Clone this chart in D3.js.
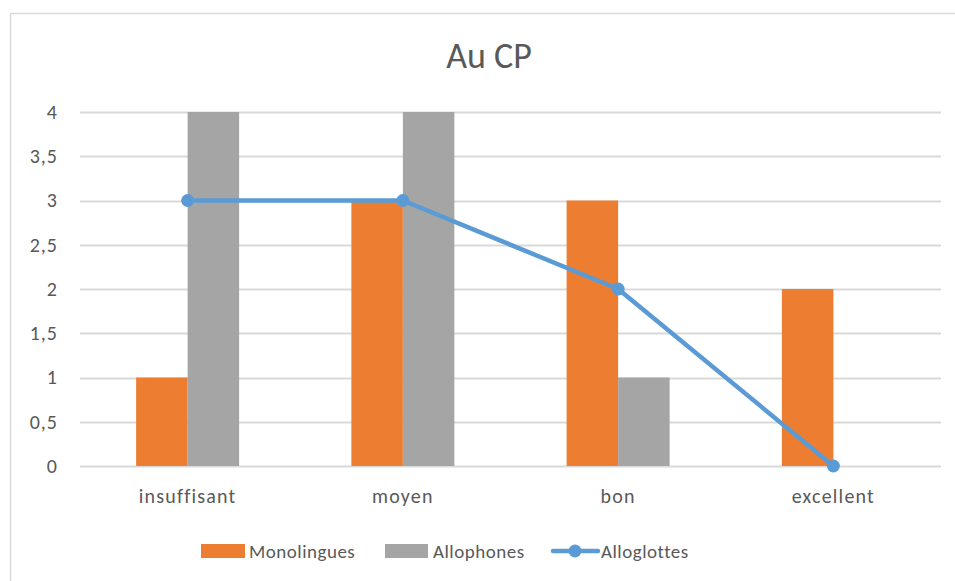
<!DOCTYPE html>
<html>
<head>
<meta charset="utf-8">
<script src="https://cdn.jsdelivr.net/npm/d3@7"></script>
<style>
  body { margin: 0; background: #fff; }
  svg text { font-family: Calibri, Carlito, "Open Sans", sans-serif; fill: #595959; }
</style>
</head>
<body>
<svg id="chart" width="955" height="581"></svg>
<script>
const categories = ["insuffisant", "moyen", "bon", "excellent"];
const monolingues = [1, 3, 3, 2];
const allophones = [4, 4, 1, 0];
const alloglottes = [3, 3, 2, 0];
const yTicks = [0, 0.5, 1, 1.5, 2, 2.5, 3, 3.5, 4];

const colors = { mono: "#ED7D31", allo: "#A5A5A5", line: "#5B9BD5" };

const svg = d3.select("#chart");
const W = 955, H = 581;
const plot = { left: 80, right: 941, top: 112, bottom: 466 };

// chart frame (open on the right and bottom edges)
svg.append("path")
  .attr("d", `M10.5,${H} V13.5 H${W}`)
  .attr("fill", "none").attr("stroke", "#D9D9D9").attr("stroke-width", 1.5);

svg.append("text")
  .attr("x", 489).attr("y", 68)
  .attr("text-anchor", "middle")
  .attr("font-size", 36)
  .text("Au CP");

const x = d3.scaleBand().domain(categories).range([plot.left, plot.right]).paddingInner(0).paddingOuter(0);
const y = d3.scaleLinear().domain([0, 4]).range([plot.bottom, plot.top]);
const barW = 51.5;

// horizontal gridlines
svg.append("g").selectAll("line").data(yTicks).join("line")
  .attr("x1", plot.left).attr("x2", plot.right)
  .attr("y1", d => Math.round(y(d)) + 0.5).attr("y2", d => Math.round(y(d)) + 0.5)
  .attr("stroke", "#D9D9D9").attr("stroke-width", 2);

const labelFont = 'Calibri, Carlito, "Open Sans", sans-serif';

// y axis labels
const yAxis = d3.axisLeft(y).tickValues(yTicks).tickSize(0).tickPadding(0)
  .tickFormat(d => String(d).replace(".", ","));
const gy = svg.append("g").attr("transform", `translate(${plot.left - 22},0)`).call(yAxis);
gy.select(".domain").remove();
gy.selectAll("text").attr("font-size", 20).attr("letter-spacing", 1).attr("fill", "#595959")
  .attr("font-family", labelFont);

// x axis labels
const xAxis = d3.axisBottom(x).tickSize(0).tickPadding(0);
const gx = svg.append("g").attr("transform", `translate(0,${plot.bottom + 23})`).call(xAxis);
gx.select(".domain").remove();
gx.selectAll("text").attr("font-size", 20).attr("letter-spacing", 1.2).attr("fill", "#595959")
  .attr("font-family", labelFont);

const cx = c => x(c) + x.bandwidth() / 2;

// bars
svg.append("g").selectAll("rect").data(categories).join("rect")
  .attr("x", c => cx(c) - barW)
  .attr("width", barW)
  .attr("y", (c, i) => y(monolingues[i]))
  .attr("height", (c, i) => y(0) - y(monolingues[i]))
  .attr("fill", colors.mono);

svg.append("g").selectAll("rect").data(categories).join("rect")
  .attr("x", c => cx(c))
  .attr("width", barW)
  .attr("y", (c, i) => y(allophones[i]))
  .attr("height", (c, i) => y(0) - y(allophones[i]))
  .attr("fill", colors.allo);

// line series
const line = d3.line().x(d => cx(d.c)).y(d => y(d.v));
const pts = categories.map((c, i) => ({ c, v: alloglottes[i] }));
svg.append("path").datum(pts)
  .attr("d", line)
  .attr("fill", "none").attr("stroke", colors.line)
  .attr("stroke-width", 4.5).attr("stroke-linejoin", "round").attr("stroke-linecap", "round");
svg.append("g").selectAll("circle").data(pts).join("circle")
  .attr("cx", d => cx(d.c)).attr("cy", d => y(d.v)).attr("r", 6.5)
  .attr("fill", colors.line);

// legend
const lg = svg.append("g").attr("font-size", 19).attr("letter-spacing", 0.5);
const ly = 551;
lg.append("rect").attr("x", 201).attr("y", ly - 7).attr("width", 44).attr("height", 14).attr("fill", colors.mono);
lg.append("text").attr("x", 249).attr("y", ly).attr("dy", "0.35em").text("Monolingues");
lg.append("rect").attr("x", 385).attr("y", ly - 7).attr("width", 43).attr("height", 14).attr("fill", colors.allo);
lg.append("text").attr("x", 433).attr("y", ly).attr("dy", "0.35em").text("Allophones");
lg.append("line").attr("x1", 553).attr("x2", 598).attr("y1", ly).attr("y2", ly)
  .attr("stroke", colors.line).attr("stroke-width", 4.5).attr("stroke-linecap", "round");
lg.append("circle").attr("cx", 575).attr("cy", ly).attr("r", 6.5).attr("fill", colors.line);
lg.append("text").attr("x", 601).attr("y", ly).attr("dy", "0.35em").text("Alloglottes");
</script>
</body>
</html>
